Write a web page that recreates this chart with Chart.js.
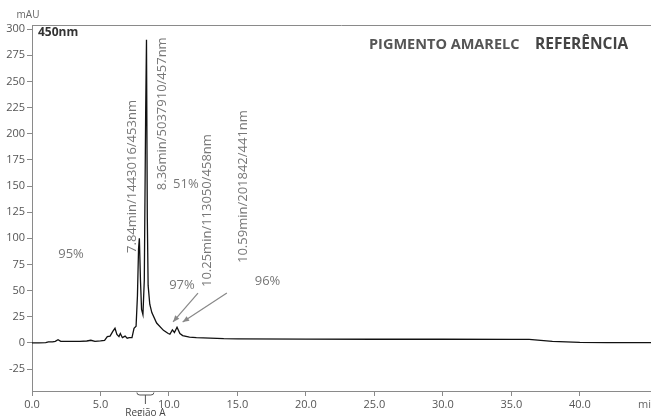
<!DOCTYPE html>
<html>
<head>
<meta charset="utf-8">
<script src="https://cdn.jsdelivr.net/npm/chart.js@4.4.1/dist/chart.umd.min.js"></script>
<style>
  html, body { margin: 0; padding: 0; background: #fff; }
  #wrap { width: 651px; height: 416px; position: relative; }
</style>
</head>
<body>
<div id="wrap"><canvas id="grafico"></canvas></div>
<script>
// cromatograma 450nm - tempos (min) e absorbancia (mAU)
const tempos = [0.0, 0.5, 1.0, 1.2, 1.5, 1.7, 1.9, 2.1, 2.5, 3.0, 3.5, 4.0, 4.3, 4.6, 5.0, 5.3, 5.5, 5.7, 5.9, 6.06,
  6.2, 6.35, 6.45, 6.6, 6.8, 6.95, 7.1, 7.3, 7.45, 7.6, 7.7, 7.78, 7.84, 7.92, 8.0, 8.1, 8.2, 8.3, 8.36, 8.42,
  8.48, 8.6, 8.75, 9.1, 9.6, 9.95, 10.07, 10.25, 10.4, 10.59, 10.8, 11.0, 11.5, 12.0, 13.0, 14.0, 15.0, 20.0, 25.0, 30.0,
  35.0, 36.3, 38.0, 40.0, 42.0, 45.2];
const mAU = [0, 0, 0.3, 1, 1, 1.5, 3, 1.5, 1.5, 1.5, 1.5, 1.8, 2.5, 1.5, 2, 2.5, 6, 6.5, 11, 14,
  8, 6, 9, 5, 6.5, 4.5, 5, 5, 14, 16, 45, 90, 100, 60, 32, 27, 60, 220, 290, 120,
  55, 37, 29, 19, 12, 9, 8.3, 12.5, 10, 15, 9, 7, 5.5, 5, 4.5, 4, 3.8, 3.6, 3.5, 3.5,
  3.4, 3.4, 1.5, 0.5, 0.3, 0.3];

const ticksX = [0, 5, 10, 15, 20, 25, 30, 35, 40];
const ticksY = [-25, 0, 25, 50, 75, 100, 125, 150, 175, 200, 225, 250, 275, 300];

// textos dos picos (posicao em min / mAU)
const rotulosPicos = ["7.84min/1443016/453nm", "8.36min/5037910/457nm", "10.25min/113050/458nm", "10.59min/201842/441nm"];
const picosX = [7.30, 9.49, 12.77, 15.4];
const picosY = [86, 146, 53.4, 76.4];
const pureza = ["95%", "51%", "97%", "96%"];
const purezaX = [2.85, 11.24, 10.95, 17.2];
const purezaY = [85, 152, 55.4, 59.2];

const pontos = tempos.map((t, i) => ({ x: t, y: mAU[i] }));

const cinza = "#777";
const fonte = "'Open Sans', sans-serif";

const extras = {
  id: "extras",
  afterDraw(chart) {
    const ctx = chart.ctx;
    const sx = chart.scales.x, sy = chart.scales.y;
    const a = chart.chartArea;
    ctx.save();
    // linha de cima
    ctx.strokeStyle = "#8a8a8a";
    ctx.lineWidth = 1;
    ctx.beginPath();
    ctx.moveTo(a.left, a.top + 0.5);
    ctx.lineTo(a.right, a.top + 0.5);
    ctx.stroke();

    ctx.fillStyle = "#666";
    ctx.font = "10px " + fonte;
    ctx.textAlign = "center";
    ctx.textBaseline = "middle";
    ctx.fillText("mAU", 28, 15);

    ctx.fillStyle = "#333";
    ctx.font = "bold 12px " + fonte;
    ctx.textAlign = "left";
    ctx.fillText("450nm", 38, 33);

    ctx.fillStyle = "#555";
    ctx.font = "bold 14.5px " + fonte;
    ctx.fillText("PIGMENTO AMARELC", 369, 45);
    ctx.fillStyle = "#444";
    ctx.font = "bold 15.5px " + fonte;
    ctx.fillText("REFERÊNCIA", 535, 45);

    ctx.fillStyle = "#666";
    ctx.font = "11px " + fonte;
    ctx.fillText("min", 638, 405);

    // rotulos verticais
    ctx.fillStyle = cinza;
    ctx.font = "13px " + fonte;
    rotulosPicos.forEach((txt, i) => {
      ctx.save();
      ctx.translate(sx.getPixelForValue(picosX[i]), sy.getPixelForValue(picosY[i]));
      ctx.rotate(-Math.PI / 2);
      ctx.textAlign = "left";
      ctx.textBaseline = "middle";
      ctx.fillText(txt, 0, 0);
      ctx.restore();
    });
    ctx.font = "13px " + fonte;
    ctx.textAlign = "center";
    pureza.forEach((txt, i) => {
      ctx.fillText(txt, sx.getPixelForValue(purezaX[i]), sy.getPixelForValue(purezaY[i]));
    });

    // setas
    const seta = (t0, v0, t1, v1) => {
      const x0 = sx.getPixelForValue(t0), y0 = sy.getPixelForValue(v0);
      const x1 = sx.getPixelForValue(t1), y1 = sy.getPixelForValue(v1);
      const ang = Math.atan2(y1 - y0, x1 - x0);
      ctx.strokeStyle = "#888";
      ctx.fillStyle = "#888";
      ctx.lineWidth = 1.2;
      ctx.beginPath();
      ctx.moveTo(x0, y0);
      ctx.lineTo(x1, y1);
      ctx.stroke();
      ctx.beginPath();
      ctx.moveTo(x1, y1);
      ctx.lineTo(x1 - 7 * Math.cos(ang - 0.4), y1 - 7 * Math.sin(ang - 0.4));
      ctx.lineTo(x1 - 7 * Math.cos(ang + 0.4), y1 - 7 * Math.sin(ang + 0.4));
      ctx.closePath();
      ctx.fill();
    };
    seta(12.12, 47.7, 10.3, 20);
    seta(14.23, 47.7, 11.0, 20);

    // regiao A
    const xa = sx.getPixelForValue(7.66), xb = sx.getPixelForValue(8.9);
    const xm = (xa + xb) / 2;
    const yb = a.bottom + 4;
    ctx.strokeStyle = "#555";
    ctx.lineWidth = 1;
    ctx.beginPath();
    ctx.moveTo(xa, yb - 2.5);
    ctx.quadraticCurveTo(xa, yb, xa + 3, yb);
    ctx.lineTo(xb - 3, yb);
    ctx.quadraticCurveTo(xb, yb, xb, yb - 2.5);
    ctx.moveTo(xm, yb);
    ctx.lineTo(xm, yb + 9);
    ctx.stroke();
    ctx.fillStyle = "#444";
    ctx.font = "10px " + fonte;
    ctx.textAlign = "center";
    ctx.textBaseline = "top";
    ctx.fillText("Região A", xm, 408);
    ctx.restore();
  }
};

new Chart(document.getElementById("grafico"), {
  type: "line",
  data: {
    datasets: [{
      data: pontos,
      borderColor: "#111",
      borderWidth: 1.3,
      pointRadius: 0,
      tension: 0,
      fill: false
    }]
  },
  options: {
    responsive: true,
    maintainAspectRatio: false,
    animation: false,
    layout: { padding: { top: 25, right: 0, left: 0, bottom: 0 } },
    plugins: { legend: { display: false }, tooltip: { enabled: false } },
    scales: {
      x: {
        type: "linear",
        min: 0,
        max: 45.2,
        afterBuildTicks: ax => { ax.ticks = ticksX.map(v => ({ value: v })); },
        afterFit: ax => { ax.height = 25; },
        grid: { drawOnChartArea: false, drawTicks: true, tickLength: 5, color: "#8a8a8a" },
        border: { display: true, color: "#8a8a8a" },
        ticks: { color: "#555", font: { family: "Open Sans", size: 11 }, padding: 2, maxRotation: 0,
          callback: v => v.toFixed(1) }
      },
      y: {
        min: -46,
        max: 304,
        afterBuildTicks: ax => { ax.ticks = ticksY.map(v => ({ value: v })); },
        afterFit: ax => { ax.width = 32; },
        grid: { drawOnChartArea: false, drawTicks: true, tickLength: 5, color: "#8a8a8a" },
        border: { display: true, color: "#8a8a8a" },
        ticks: { color: "#555", font: { family: "Open Sans", size: 11 }, padding: 2 }
      }
    }
  },
  plugins: [extras]
});
</script>
</body>
</html>
